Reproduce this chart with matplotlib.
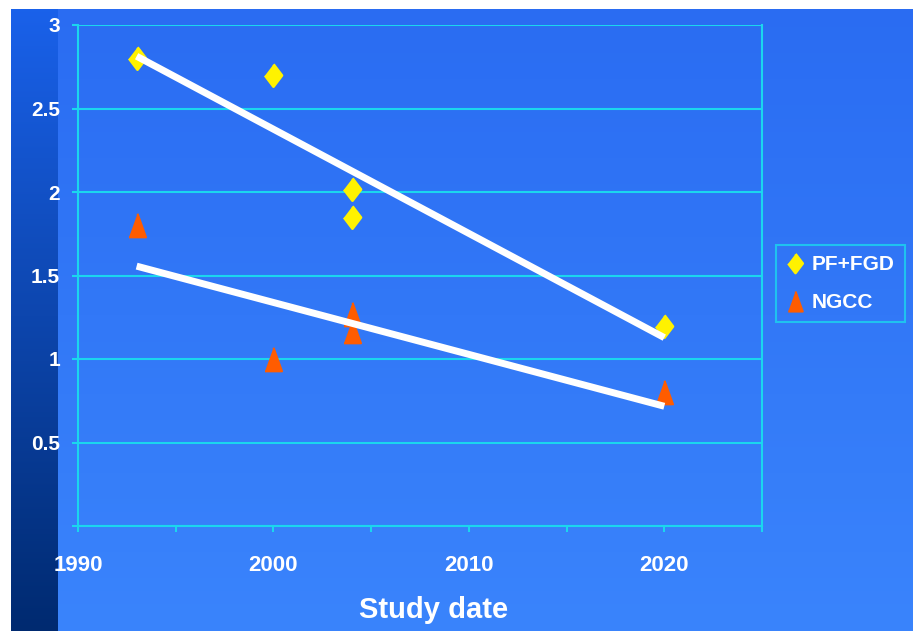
import numpy as np
import matplotlib
matplotlib.use('Agg')
import matplotlib.pyplot as plt

# values
pf_years = [1993, 2000, 2004, 2004, 2020]
pf_fgd = [2.80, 2.70, 2.02, 1.85, 1.20]
ngcc_years = [1993, 2000, 2004, 2004, 2020]
ngcc = [1.80, 1.00, 1.27, 1.17, 0.80]
x_ticks = [1990, 2000, 2010, 2020]
y_ticks = [0, 0.5, 1, 1.5, 2, 2.5, 3]
y_labels = ['', '0.5', '1', '1.5', '2', '2.5', '3']

plt.rcParams['font.family'] = ['Liberation Sans Narrow', 'Liberation Sans', 'DejaVu Sans']
plt.rcParams['font.weight'] = 'bold'

W, H = 913, 631
fig = plt.figure(figsize=(W / 100, H / 100), dpi=100)

# background: blue slide with darker strip on the left
t = np.linspace(0, 1, H)[:, None, None]
top = np.array([42, 108, 242]) / 255
bot = np.array([58, 132, 252]) / 255
bg = np.ones((H, W, 3)) * (top + (bot - top) * t)
s_top = np.array([26, 98, 236]) / 255
s_bot = np.array([0, 42, 112]) / 255
bg[:, 11:58] = s_top + (s_bot - s_top) * t
bg[:9, :] = 1
bg[:, :11] = 1
fig.figimage(bg, 0, 0, origin='upper', zorder=-10)

cyan = '#1bd6ee'
ax = fig.add_axes([78 / W, 1 - 526 / H, (762 - 78) / W, (526 - 25) / H])
ax.set_facecolor('none')

ax.set_xlim(1990, 2025)
ax.set_ylim(0, 3)
ax.set_xticks(x_ticks)
ax.set_xticks([1995, 2005, 2015, 2025], minor=True)
ax.set_yticks(y_ticks)
ax.set_yticklabels(y_labels)
ax.grid(axis='y', color=cyan, lw=1.5)
ax.set_axisbelow(True)
for sp in ax.spines.values():
    sp.set_color(cyan)
    sp.set_linewidth(1.5)
ax.spines['top'].set_visible(False)
ax.tick_params(axis='both', which='both', color=cyan, width=1.5, length=4,
               labelcolor='white')
ax.tick_params(axis='x', labelsize=16, pad=17)
ax.tick_params(axis='y', labelsize=15, pad=9)

diamond = [(0, 0.5), (0.38, 0), (0, -0.5), (-0.38, 0)]
tri = [(-0.36, -0.5), (0.36, -0.5), (0, 0.5)]
ax.plot(pf_years, pf_fgd, ls='none', marker=diamond, ms=16, color='#fff200',
        mec='#fff200', mew=2, label='PF+FGD', zorder=3)
ax.plot(ngcc_years, ngcc, ls='none', marker=tri, ms=17, color='#ff5c00',
        mec='#ff5c00', mew=1.5, label='NGCC', zorder=3)

# linear trend lines
for xs, ys in [(pf_years, pf_fgd), (ngcc_years, ngcc)]:
    coef = np.polyfit(xs, ys, 1)
    xe = np.array([min(xs), max(xs)])
    ax.plot(xe, np.polyval(coef, xe), color='white', lw=5, zorder=4,
            solid_capstyle='butt')

leg = ax.legend(loc='center', bbox_to_anchor=(840.5 / W, 1 - 283.5 / H),
                bbox_transform=fig.transFigure, fontsize=15, frameon=True,
                fancybox=False, handlelength=0.8, handletextpad=0.4,
                labelspacing=0.9, borderpad=0.5, borderaxespad=0,
                markerscale=0.85)
leg.get_frame().set_edgecolor(cyan)
leg.get_frame().set_linewidth(1.5)
leg.get_frame().set_facecolor('none')
for txt in leg.get_texts():
    txt.set_color('white')

fig.text(434 / W, 1 - 610 / H, 'Study date', ha='center', va='center',
         fontsize=21, color='white', fontweight='bold')

fig.savefig('out.png', dpi=100)
